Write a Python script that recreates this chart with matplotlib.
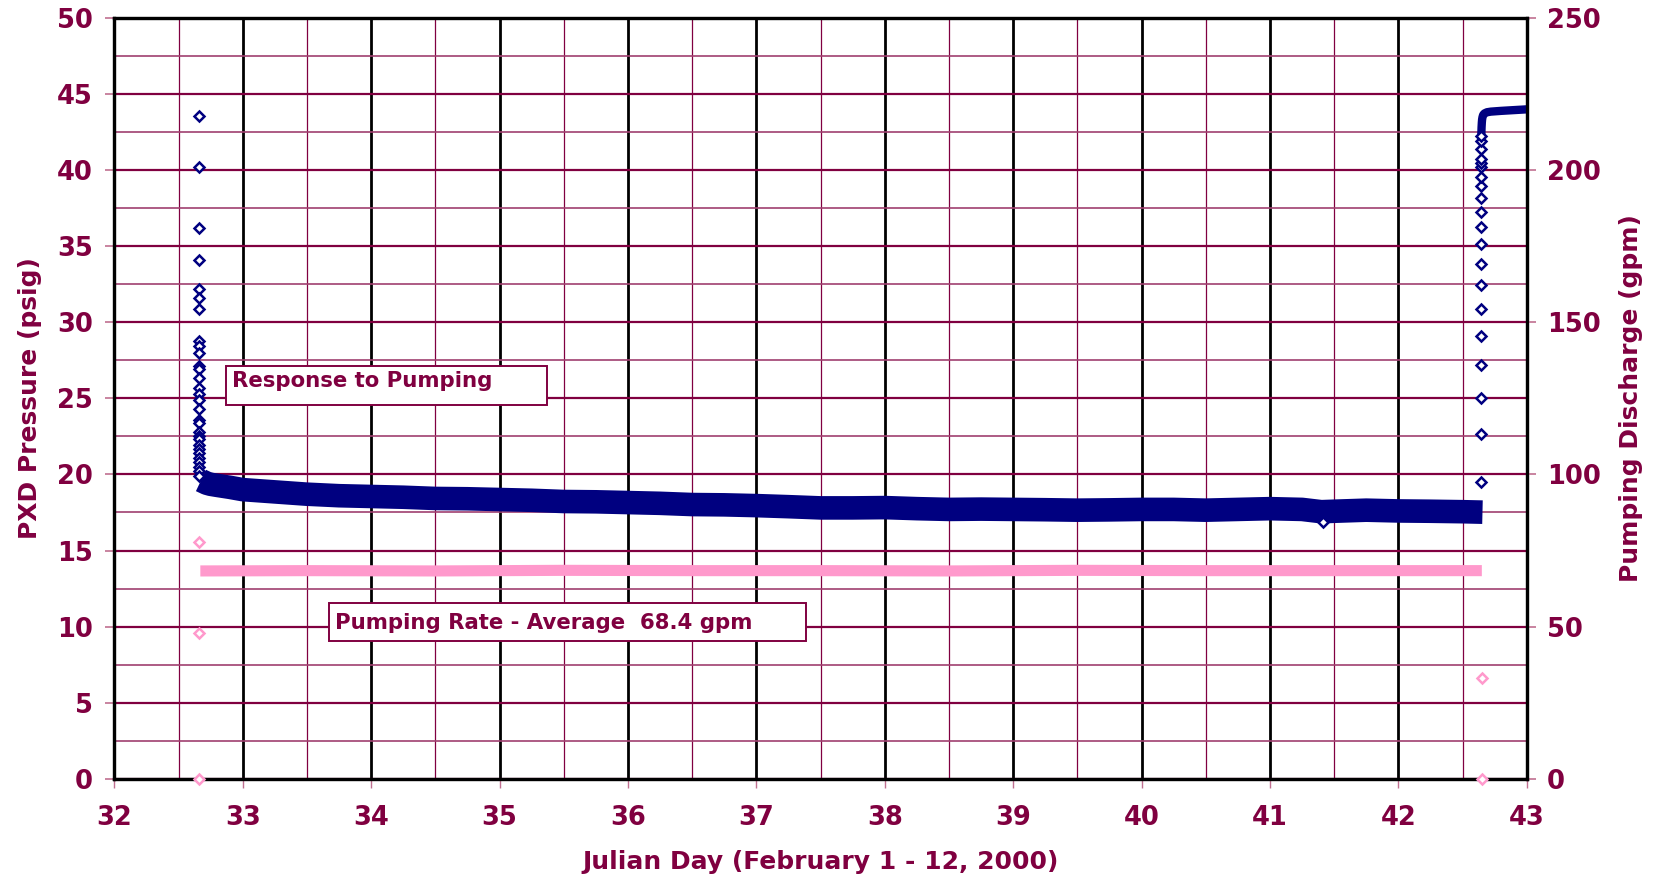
import numpy as np
import matplotlib
matplotlib.use("Agg")
import matplotlib.pyplot as plt
from matplotlib.patches import Rectangle
from matplotlib.ticker import MultipleLocator

# ---- PXD pressure record (psig) ----
# first readings after pumping starts (all logged at the same day value)
early_day = 32.66
early_p = [43.55, 40.2, 36.2, 34.1, 32.15, 31.6, 30.86, 28.76, 28.4, 28.0,
           27.1, 26.9, 26.35, 25.65, 25.3, 24.9, 24.3, 23.6, 23.4, 22.8,
           22.5, 22.3, 21.9, 21.7, 21.4, 21.1, 20.8, 20.5, 20.2, 19.9]

# continuous logging during pumping
band_t = [32.675, 32.70, 32.72, 32.75, 32.80, 32.90, 33.00, 33.25, 33.50, 33.75,
          34.00, 34.25, 34.50, 34.75, 35.00, 35.25, 35.50, 35.75, 36.00, 36.25,
          36.50, 36.75, 37.00, 37.25, 37.50, 37.75, 38.00, 38.25, 38.50, 38.75,
          39.00, 39.25, 39.50, 39.75, 40.00, 40.25, 40.50, 40.75, 41.00, 41.25,
          41.40, 41.50, 41.75, 42.00, 42.25, 42.50, 42.655]
band_p = [19.6, 19.5, 19.42, 19.35, 19.28, 19.15, 19.0, 18.85, 18.7, 18.6,
          18.55, 18.5, 18.42, 18.4, 18.35, 18.3, 18.22, 18.2, 18.15, 18.1,
          18.02, 18.0, 17.95, 17.88, 17.8, 17.8, 17.82, 17.75, 17.7, 17.72,
          17.7, 17.68, 17.65, 17.67, 17.7, 17.7, 17.65, 17.7, 17.75, 17.7,
          17.55, 17.58, 17.65, 17.6, 17.58, 17.55, 17.52]

# isolated low reading
spike_t = [41.41]
spike_p = [16.9]

# recovery after the pump is shut off
recovery_day = 42.644
recovery_early_p = [19.5, 22.65, 25.04, 27.16, 29.09, 30.84, 32.42, 33.83, 35.13,
                    36.26, 37.25, 38.17, 38.94, 39.55, 40.17, 40.43, 40.69,
                    41.37, 41.9, 42.2]
recovery_t = [42.646, 42.648, 42.650, 42.652, 42.655, 42.66, 42.67, 42.69,
              42.72, 42.80, 42.90, 43.00]
recovery_p = [42.3, 42.8, 43.1, 43.3, 43.45, 43.6, 43.7, 43.78, 43.82, 43.87,
              43.92, 43.97]

# ---- pumping discharge (gpm) ----
rate_t = [32.67, 33.5, 34.5, 35.5, 36.5, 37.5, 38.5, 39.5, 40.5, 41.5, 42.65]
rate_gpm = [68.3, 68.4, 68.3, 68.5, 68.4, 68.4, 68.3, 68.5, 68.4, 68.4, 68.4]
rate_start_t = [32.66, 32.66, 32.66]
rate_start_gpm = [77.9, 48.0, 0.0]
rate_stop_t = [42.65, 42.65]
rate_stop_gpm = [33.2, 0.0]

x_ticks = list(range(32, 44))
p_ticks = list(range(0, 55, 5))
q_ticks = list(range(0, 300, 50))

MAROON = "#800040"
NAVY = "#000080"
PINK = "#FF99CC"
TICK = "#C07090"

plt.rcParams["font.family"] = ["DejaVu Sans"]
plt.rcParams["font.weight"] = "bold"

fig = plt.figure(figsize=(16.59, 8.8), dpi=100)
ax = fig.add_axes([0.0689, 0.1148, 0.9203 - 0.0689, 0.9801 - 0.1148])
ax2 = ax.twinx()

ax.set_xlim(32, 43)
ax.set_ylim(0, 50)
ax2.set_ylim(0, 250)

# grid
ax.xaxis.set_major_locator(MultipleLocator(1))
ax.xaxis.set_minor_locator(MultipleLocator(0.5))
ax.yaxis.set_major_locator(MultipleLocator(5))
ax.yaxis.set_minor_locator(MultipleLocator(2.5))
ax.set_axisbelow(True)
ax.grid(True, which="major", axis="x", color="black", lw=2.0, zorder=0)
ax.grid(True, which="minor", axis="x", color=MAROON, lw=0.9, zorder=0)
ax.grid(True, which="major", axis="y", color=MAROON, lw=1.6, zorder=0)
ax.grid(True, which="minor", axis="y", color="#A04070", lw=1.2, zorder=0)

# pressure
mk = dict(marker="D", ms=4.8, mfc="white", mec=NAVY, mew=1.8, ls="none")
ax.plot(band_t, band_p, color=NAVY, lw=17, solid_capstyle="butt",
        solid_joinstyle="round", zorder=3)
ax.plot(np.full(len(early_p), early_day), early_p, zorder=4, **mk)
ax.plot(spike_t, spike_p, zorder=4, **mk)
ax.plot(np.full(len(recovery_early_p), recovery_day), recovery_early_p, zorder=4, **mk)
ax.plot(recovery_t, recovery_p, color=NAVY, lw=6, solid_capstyle="butt",
        solid_joinstyle="round", zorder=3)

# discharge
mkp = dict(marker="D", ms=4.8, mfc="white", mec=PINK, mew=1.8, ls="none")
ax2.plot(rate_t, rate_gpm, color=PINK, lw=8, solid_capstyle="butt", zorder=3)
ax2.plot(rate_start_t, rate_start_gpm, zorder=4, clip_on=False, **mkp)
ax2.plot(rate_stop_t, rate_stop_gpm, zorder=4, clip_on=False, **mkp)

# annotation boxes
for (x0, x1, y0, y1, tx, ty, label) in [
        (32.872, 35.369, 24.56, 27.12, 32.914, 25.72, "Response to Pumping"),
        (33.672, 37.387, 9.08, 11.58, 33.719, 9.83,
         "Pumping Rate - Average  68.4 gpm")]:
    ax2.add_patch(Rectangle((x0, y0), x1 - x0, y1 - y0, transform=ax.transData,
                            facecolor="white", edgecolor=MAROON, lw=1.4, zorder=6))
    ax2.text(tx, ty, label, transform=ax.transData, fontsize=15.3, fontweight="bold",
             color=MAROON, ha="left", va="baseline", zorder=7)

# spines
for a in (ax, ax2):
    for s in a.spines.values():
        s.set_color("black")
        s.set_linewidth(2.3)

# ticks
ax.set_xticks(x_ticks)
ax.set_yticks(p_ticks)
ax2.set_yticks(q_ticks)
ax.tick_params(axis="x", which="major", direction="out", length=6.5, width=1.0,
               color=TICK, labelsize=18.5, labelcolor=MAROON, pad=12)
ax.tick_params(axis="y", which="major", direction="out", length=6.5, width=1.2,
               color=TICK, labelsize=18.5, labelcolor=MAROON, pad=9)
ax.tick_params(which="minor", length=0)
ax2.tick_params(axis="y", direction="out", length=6.5, width=1.2, color=TICK,
                labelsize=18.5, labelcolor=MAROON, pad=8)
for lab in ax.get_xticklabels() + ax.get_yticklabels() + ax2.get_yticklabels():
    lab.set_fontweight("bold")

ax.set_xlabel("Julian Day (February 1 - 12, 2000)", fontsize=18, fontweight="bold",
              color=MAROON)
ax.set_ylabel("PXD Pressure (psig)", fontsize=18, fontweight="bold", color=MAROON)
ax2.set_ylabel("Pumping Discharge (gpm)", fontsize=18, fontweight="bold",
               color=MAROON)
ax.xaxis.set_label_coords(0.5, -0.093)
ax.yaxis.set_label_coords(-0.0512, 0.5)
ax2.yaxis.set_label_coords(1.0654, 0.5)

fig.savefig("out.png", dpi=100, facecolor="white")
